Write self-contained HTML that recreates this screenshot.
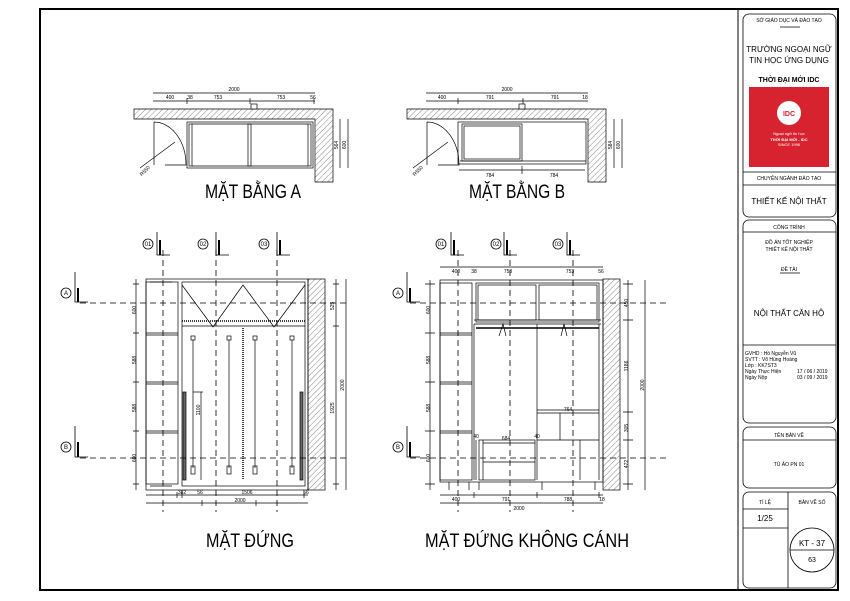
<!DOCTYPE html>
<html><head><meta charset="utf-8"><style>
html,body{margin:0;padding:0;background:#fff;}
svg{display:block;font-family:"Liberation Sans","Noto Sans CJK SC",sans-serif;}
</style></head><body>
<svg width="850" height="601" viewBox="0 0 850 601" xmlns="http://www.w3.org/2000/svg">
<defs>
<pattern id="h" width="4" height="4" patternUnits="userSpaceOnUse" patternTransform="rotate(45)">
<line x1="0" y1="0" x2="0" y2="4" stroke="#333" stroke-width="0.6"/></pattern>
</defs>
<rect width="850" height="601" fill="#fff"/>
<!-- frame -->
<rect x="40" y="9" width="798" height="581" fill="none" stroke="#000" stroke-width="2"/>
<line x1="738" y1="9" x2="738" y2="590" stroke="#000" stroke-width="1"/>

<!-- title block -->
<g fill="none" stroke="#000" stroke-width="0.8">
<rect x="743" y="14" width="93" height="203" rx="6"/>
<rect x="743" y="220" width="93" height="203" rx="6"/>
<rect x="743" y="427" width="93" height="61" rx="6"/>
<rect x="743" y="492" width="93" height="96" rx="6"/>
<line x1="743" y1="172" x2="836" y2="172"/>
<line x1="743" y1="185" x2="836" y2="185"/>
<line x1="743" y1="232" x2="836" y2="232"/>
<line x1="743" y1="345" x2="836" y2="345"/>
<line x1="743" y1="440" x2="836" y2="440"/>
<line x1="788" y1="492" x2="788" y2="588"/>
<line x1="743" y1="509" x2="788" y2="509"/>
<line x1="743" y1="528" x2="788" y2="528"/>
<line x1="780" y1="27" x2="800" y2="27"/>
<line x1="780" y1="273" x2="800" y2="273"/>
<circle cx="812" cy="550" r="22"/>
<line x1="790" y1="550" x2="834" y2="550"/>
</g>
<rect x="749" y="87" width="80" height="80" fill="#d7232f"/>
<circle cx="789" cy="113" r="12" fill="#fff"/>
<text x="789" y="116" font-size="7" font-weight="bold" fill="#d7232f" text-anchor="middle">IDC</text>
<g fill="#fff" font-size="4" text-anchor="middle"><text x="789" y="135">Ngoại ngữ tin học</text><text x="789" y="141" font-weight="bold">THỜI ĐẠI MỚI - IDC</text><text x="789" y="146">SINCE 1996</text></g>
<g font-size="5" text-anchor="middle" fill="#000">
<text x="789" y="22">SỞ GIÁO DỤC VÀ ĐÀO TẠO</text>
<text x="789" y="52" font-size="8">TRƯỜNG NGOẠI NGỮ</text>
<text x="789" y="63" font-size="8">TIN HỌC ỨNG DỤNG</text>
<text x="789" y="82" font-size="7" font-weight="bold">THỜI ĐẠI MỚI IDC</text>
<text x="789" y="180">CHUYÊN NGÀNH ĐÀO TẠO</text>
<text x="789" y="204" font-size="8">THIẾT KẾ NỘI THẤT</text>
<text x="789" y="229">CÔNG TRÌNH</text>
<text x="789" y="244">ĐỒ ÁN TỐT NGHIỆP</text>
<text x="789" y="251">THIẾT KẾ NỘI THẤT</text>
<text x="789" y="271">ĐỀ TÀI</text>
<text x="789" y="316" font-size="8">NỘI THẤT CĂN HỘ</text>
<text x="789" y="437">TÊN BẢN VẼ</text>
<text x="789" y="466">TỦ ÁO PN 01</text>
<text x="765" y="504">TỈ LỆ</text>
<text x="765" y="521" font-size="8">1/25</text>
<text x="812" y="504">BẢN VẼ SỐ</text>
<text x="812" y="546" font-size="8">KT - 37</text>
<text x="812" y="562" font-size="7">63</text>
</g>
<g font-size="5" fill="#000">
<text x="745" y="355">GVHD   : Hồ Nguyễn Vũ</text>
<text x="745" y="361">SVTT    : Võ Hùng Hoàng</text>
<text x="745" y="367">Lớp      : KK7ST3</text>
<text x="745" y="373">Ngày Thực Hiện</text><text x="797" y="373">17 / 06 / 2019</text>
<text x="745" y="379">Ngày Nộp</text><text x="797" y="379">03 / 09 / 2019</text>
</g>

<!-- PLAN A -->
<g stroke="#000" stroke-width="0.7" fill="none">
<path d="M134 109 H333 V182 H315 V119 H134 Z" fill="url(#h)"/>
<rect x="251" y="104" width="6" height="5" fill="#fff"/>
<rect x="187" y="122" width="126" height="46"/>
<rect x="189" y="124" width="3" height="42"/>
<rect x="248" y="124" width="3" height="42"/>
<rect x="308" y="124" width="3" height="42"/>
<line x1="192" y1="124" x2="308" y2="124"/><line x1="192" y1="166" x2="308" y2="166"/>
<path d="M154 122 V165 M154 122 A32 43 0 0 1 186 165 L165 165"/>
<line x1="140" y1="168" x2="175" y2="142"/>
<line x1="153" y1="93" x2="315" y2="93"/><line x1="153" y1="101" x2="315" y2="101"/>
<line x1="187" y1="98" x2="187" y2="104"/><line x1="250" y1="98" x2="250" y2="104"/><line x1="314" y1="98" x2="314" y2="104"/>
<line x1="340" y1="119" x2="340" y2="168"/><line x1="348" y1="119" x2="348" y2="168"/>
</g>
<g font-size="5" fill="#000" text-anchor="middle">
<text x="234" y="91">2000</text><text x="170" y="99">400</text><text x="190" y="99">38</text><text x="218" y="99">753</text><text x="281" y="99">753</text><text x="313" y="99">56</text>
<text x="146" y="172" transform="rotate(-45 146 172)">R550</text>
<text x="338" y="145" transform="rotate(-90 338 145)">564</text><text x="346" y="145" transform="rotate(-90 346 145)">600</text>
</g>
<text x="253" y="198" font-size="19" text-anchor="middle" textLength="96" lengthAdjust="spacingAndGlyphs">MẶT BẰNG A</text>

<!-- PLAN B -->
<g stroke="#000" stroke-width="0.7" fill="none">
<path d="M407 109 H606 V182 H588 V119 H407 Z" fill="url(#h)"/>
<rect x="519" y="104" width="6" height="5" fill="#fff"/>
<rect x="458" y="122" width="128" height="42"/>
<rect x="462" y="124" width="60" height="37"/><rect x="464" y="126" width="56" height="33"/>
<line x1="460" y1="161" x2="586" y2="161"/>
<path d="M427 122 V165 M427 122 A32 43 0 0 1 459 165 L438 165"/>
<line x1="413" y1="168" x2="448" y2="142"/>
<line x1="426" y1="93" x2="588" y2="93"/><line x1="426" y1="101" x2="588" y2="101"/>
<line x1="458" y1="98" x2="458" y2="104"/><line x1="523" y1="98" x2="523" y2="104"/>
<line x1="459" y1="170" x2="585" y2="170"/><line x1="522" y1="166" x2="522" y2="174"/>
<line x1="614" y1="119" x2="614" y2="168"/><line x1="622" y1="119" x2="622" y2="168"/>
</g>
<g font-size="5" fill="#000" text-anchor="middle">
<text x="507" y="91">2000</text><text x="442" y="99">400</text><text x="490" y="99">791</text><text x="555" y="99">791</text><text x="585" y="99">18</text>
<text x="490" y="177">784</text><text x="554" y="177">784</text>
<text x="419" y="172" transform="rotate(-45 419 172)">R550</text>
<text x="612" y="145" transform="rotate(-90 612 145)">584</text><text x="620" y="145" transform="rotate(-90 620 145)">600</text>
</g>
<text x="517" y="198" font-size="19" text-anchor="middle" textLength="96" lengthAdjust="spacingAndGlyphs">MẶT BẰNG B</text>

<!-- ELEVATION A -->
<g stroke="#000" stroke-width="0.7" fill="none">
<rect x="308" y="279" width="17" height="211" fill="url(#h)"/>
<rect x="146" y="279" width="162" height="211"/>
<rect x="146" y="282" width="32" height="202"/>
<line x1="146" y1="333" x2="178" y2="333"/><line x1="146" y1="335" x2="178" y2="335"/>
<line x1="146" y1="382" x2="178" y2="382"/><line x1="146" y1="384" x2="178" y2="384"/>
<line x1="146" y1="431" x2="178" y2="431"/><line x1="146" y1="433" x2="178" y2="433"/>
<rect x="182" y="282" width="123" height="204"/>
<line x1="182" y1="321" x2="305" y2="321" stroke-dasharray="1 1" stroke-width="1.5"/>
<path d="M182 285 L213 327 L243 285 L274 327 L305 285"/>
<line x1="182" y1="326" x2="305" y2="326"/>
<line x1="243" y1="328" x2="243" y2="480" stroke-width="1.5" stroke-dasharray="1 1"/>
<rect x="183" y="392" width="3" height="88" fill="#666"/><rect x="300" y="392" width="3" height="88" fill="#666"/>
<line x1="193" y1="340" x2="193" y2="468"/><line x1="229" y1="340" x2="229" y2="468"/><line x1="255" y1="340" x2="255" y2="468"/><line x1="292" y1="340" x2="292" y2="468"/>
<rect x="191" y="336" width="4" height="4"/><rect x="227" y="336" width="4" height="4"/><rect x="253" y="336" width="4" height="4"/><rect x="290" y="336" width="4" height="4"/>
<rect x="191" y="466" width="4" height="8"/><rect x="227" y="466" width="4" height="8"/><rect x="253" y="466" width="4" height="8"/><rect x="290" y="466" width="4" height="8"/>
<line x1="193" y1="392" x2="203" y2="392"/><line x1="201" y1="392" x2="201" y2="480"/>
<path d="M150 282 H172 M150 486 H172"/>
<!-- dims -->
<line x1="146" y1="495" x2="308" y2="495"/><line x1="146" y1="503" x2="308" y2="503"/>
<line x1="177" y1="492" x2="177" y2="498"/><line x1="182" y1="492" x2="182" y2="498"/><line x1="304" y1="492" x2="304" y2="498"/><line x1="202" y1="500" x2="202" y2="506"/><line x1="256" y1="500" x2="256" y2="506"/>
<line x1="136" y1="279" x2="136" y2="490"/>
<line x1="336" y1="279" x2="336" y2="490"/><line x1="346" y1="279" x2="346" y2="490"/>
<path d="M333 284 H339 M333 326 H339 M333 484 H339"/>
<path d="M133 284 H139 M133 333 H139 M133 382 H139 M133 431 H139 M133 484 H139"/>
</g>
<g stroke="#000" stroke-width="0.8" fill="none" stroke-dasharray="6 4">
<line x1="80" y1="303" x2="350" y2="303"/><line x1="80" y1="458" x2="350" y2="458"/>
<line x1="163" y1="250" x2="163" y2="512"/><line x1="216" y1="250" x2="216" y2="512"/><line x1="277" y1="250" x2="277" y2="512"/>
<line x1="410" y1="303" x2="670" y2="303"/><line x1="410" y1="458" x2="670" y2="458"/>
<line x1="458" y1="250" x2="458" y2="512"/><line x1="510" y1="250" x2="510" y2="512"/><line x1="573" y1="250" x2="573" y2="512"/>
</g>
<g font-size="5" fill="#000" text-anchor="middle">
<text x="182" y="494">382</text><text x="200" y="494">56</text><text x="247" y="494">1506</text><text x="306" y="494">56</text><text x="240" y="502">2000</text>
<text x="136" y="310" transform="rotate(-90 136 310)">600</text><text x="136" y="360" transform="rotate(-90 136 360)">588</text><text x="136" y="408" transform="rotate(-90 136 408)">588</text><text x="136" y="458" transform="rotate(-90 136 458)">600</text>
<text x="334" y="306" transform="rotate(-90 334 306)">525</text><text x="334" y="408" transform="rotate(-90 334 408)">1925</text><text x="344" y="385" transform="rotate(-90 344 385)">2000</text>
<text x="200" y="410" transform="rotate(-90 200 410)">1100</text>
</g>
<text x="250" y="547" font-size="19" text-anchor="middle" textLength="88" lengthAdjust="spacingAndGlyphs">MẶT ĐỨNG</text>

<!-- ELEVATION B -->
<g stroke="#000" stroke-width="0.7" fill="none">
<rect x="603" y="279" width="17" height="211" fill="url(#h)"/>
<rect x="440" y="280" width="163" height="202"/>
<rect x="440" y="283" width="32" height="197"/>
<line x1="440" y1="333" x2="472" y2="333"/><line x1="440" y1="335" x2="472" y2="335"/>
<line x1="440" y1="382" x2="472" y2="382"/><line x1="440" y1="384" x2="472" y2="384"/>
<line x1="440" y1="431" x2="472" y2="431"/><line x1="440" y1="433" x2="472" y2="433"/>
<rect x="476" y="283" width="123" height="39"/><rect x="478" y="285" width="58" height="35"/><rect x="539" y="285" width="58" height="35"/>
<line x1="474" y1="320" x2="601" y2="320"/><line x1="474" y1="324" x2="601" y2="324"/>
<line x1="476" y1="328" x2="599" y2="328" stroke-width="1.4"/>
<line x1="474" y1="324" x2="474" y2="480"/><line x1="537" y1="324" x2="537" y2="480"/><line x1="599" y1="324" x2="599" y2="480"/>
<line x1="537" y1="410" x2="599" y2="410"/><line x1="537" y1="413" x2="599" y2="413"/>
<line x1="560" y1="413" x2="560" y2="440"/><line x1="537" y1="440" x2="599" y2="440"/><line x1="580" y1="440" x2="580" y2="480"/>
<rect x="479" y="440" width="56" height="40"/><line x1="483" y1="443" x2="535" y2="443"/><line x1="483" y1="462" x2="535" y2="462"/>
<line x1="483" y1="440" x2="483" y2="480"/><line x1="476" y1="440" x2="476" y2="480"/>
<path d="M499 336 L503 324 L506 336 M561 336 L564 324 L567 336"/>
<path d="M449 482 V490 M469 482 V490 M479 482 V490 M542 482 V490 M595 482 V490"/>
<line x1="440" y1="495" x2="603" y2="495"/><line x1="440" y1="503" x2="603" y2="503"/>
<line x1="440" y1="267" x2="603" y2="267"/>
<line x1="474" y1="492" x2="474" y2="498"/><line x1="537" y1="492" x2="537" y2="498"/><line x1="599" y1="492" x2="599" y2="498"/>
<line x1="430" y1="280" x2="430" y2="490"/>
<line x1="628" y1="280" x2="628" y2="490"/><line x1="645" y1="280" x2="645" y2="490"/>
<path d="M425 284 H435 M425 333 H435 M425 382 H435 M425 431 H435 M425 484 H435"/>
<path d="M623 284 H633 M623 320 H633 M623 412 H633 M623 440 H633 M623 484 H633"/>
</g>
<g font-size="5" fill="#000" text-anchor="middle">
<text x="456" y="273">400</text><text x="474" y="273">38</text><text x="508" y="273">753</text><text x="570" y="273">753</text><text x="601" y="273">56</text>
<text x="456" y="501">400</text><text x="506" y="501">791</text><text x="568" y="501">788</text><text x="602" y="501">18</text><text x="519" y="510">2000</text>
<text x="568" y="411">764</text><text x="506" y="440">684</text><text x="476" y="438">40</text><text x="537" y="438">40</text>
<text x="430" y="310" transform="rotate(-90 430 310)">600</text><text x="430" y="360" transform="rotate(-90 430 360)">588</text><text x="430" y="408" transform="rotate(-90 430 408)">588</text><text x="430" y="458" transform="rotate(-90 430 458)">600</text>
<text x="628" y="303" transform="rotate(-90 628 303)">450</text><text x="628" y="366" transform="rotate(-90 628 366)">1186</text><text x="628" y="428" transform="rotate(-90 628 428)">305</text><text x="628" y="464" transform="rotate(-90 628 464)">472</text><text x="644" y="385" transform="rotate(-90 644 385)">2000</text>
</g>
<text x="527" y="547" font-size="19" text-anchor="middle" textLength="204" lengthAdjust="spacingAndGlyphs">MẶT ĐỨNG KHÔNG CÁNH</text>

<!-- section markers -->
<g stroke="#000" stroke-width="0.8" fill="none">
<circle cx="148" cy="244" r="5"/><circle cx="203" cy="244" r="5"/><circle cx="264" cy="244" r="5"/>
<circle cx="441" cy="244" r="5"/><circle cx="496" cy="244" r="5"/><circle cx="558" cy="244" r="5"/>
<path d="M157 232 V255 H170 M216 232 V255 H229 M277 232 V255 H290 M451 232 V255 H464 M504 232 V255 H517 M567 232 V255 H580"/>
<circle cx="66" cy="293" r="5"/><circle cx="66" cy="447" r="5"/><circle cx="398" cy="293" r="5"/><circle cx="398" cy="447" r="5"/>
<path d="M75 272 V302 H88 M75 426 V457 H88 M407 272 V302 H420 M407 426 V457 H420"/>
</g>
<g stroke="#000" stroke-width="2"><path d="M160 240 V255 M219 240 V255 M280 240 V255 M454 240 V255 M507 240 V255 M570 240 V255 M78 288 V302 M78 442 V457 M410 288 V302 M410 442 V457"/></g>
<g font-size="6" fill="#000" text-anchor="middle">
<text x="148" y="246">01</text><text x="203" y="246">02</text><text x="264" y="246">03</text>
<text x="441" y="246">01</text><text x="496" y="246">02</text><text x="558" y="246">03</text>
<text x="66" y="295">A</text><text x="66" y="449">B</text><text x="398" y="295">A</text><text x="398" y="449">B</text>
</g>
</svg>
</body></html>
